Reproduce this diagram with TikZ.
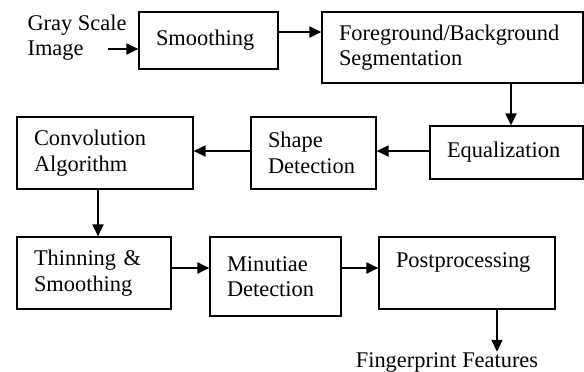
\documentclass[tikz,border=0pt]{standalone}
\usepackage{fontspec}
\setmainfont{Liberation Serif}
\usetikzlibrary{arrows.meta}

\begin{document}
\begin{tikzpicture}[x=0.5pt, y=-0.5pt,
		font=\fontsize{11.2}{12.8}\selectfont,
		blk/.style={draw, line width=0.6pt, align=left, inner xsep=8.5pt},
		arr/.style={line width=1pt, -{Triangle[length=6pt, width=5.5pt]}}]
			%%%%% START %%%%%
			
			\useasboundingbox (0, 0) rectangle (584, 371);
			
			\node[align=left, inner sep=0pt] (gray) at (77, 37.5) {Gray Scale\\Image};
			\coordinate (gin) at (108, 49);
			
			\node[blk, minimum width=69.5pt, minimum height=28.5pt, text width=52.5pt] (smooth) at (208.5, 40.5) {Smoothing};
			\node[blk, minimum width=130.5pt, minimum height=35.5pt, text width=113.5pt] (fg) at (452.5, 47.5) {Foreground/Background\\Segmentation};
			\node[blk, minimum width=76.5pt, minimum height=26.5pt, text width=59.5pt] (equal) at (506.5, 152.5) {Equalization};
			\node[blk, minimum width=62.5pt, minimum height=36pt, text width=45.5pt] (shape) at (313.5, 153) {Shape\\Detection};
			\node[blk, minimum width=88pt, minimum height=36pt, text width=71pt] (conv) at (105, 153) {Convolution\\Algorithm};
			
			\node[blk, minimum width=77pt, minimum height=36pt, text width=60pt] (thin) at (94, 273) {Thinning \&\\Smoothing};
			\node[blk, minimum width=65.5pt, minimum height=39.5pt, text width=48.5pt] (minu) at (275.5, 276.5) {Minutiae\\Detection};
			\node[blk, minimum width=88pt, minimum height=36pt, text width=71pt] (post) at (467, 273) {Postprocessing\\\mbox{}};
			
			\node[anchor=base, inner sep=0pt] (feat) at (447, 367) {Fingerprint Features};
			
			% connectors
			\draw[arr] (gin) -- (smooth.west |- gin);
			\draw[arr] (smooth.east |- 0, 32) -- (fg.west |- 0, 32);
			\draw[arr] (fg.south -| 511, 0) -- (equal.north -| 511, 0);
			\draw[arr] (equal.west |- 0, 151) -- (shape.east |- 0, 151);
			\draw[arr] (shape.west |- 0, 151) -- (conv.east |- 0, 151);
			\draw[arr] (conv.south -| 98, 0) -- (thin.north -| 98, 0);
			\draw[arr] (thin.east |- 0, 268) -- (minu.west |- 0, 268);
			\draw[arr] (minu.east |- 0, 268) -- (post.west |- 0, 268);
			\draw[arr] (post.south -| 497, 0) -- (feat.north -| 497, 0);
			
			%%%%% END %%%%%
		\end{tikzpicture}
\end{document}
